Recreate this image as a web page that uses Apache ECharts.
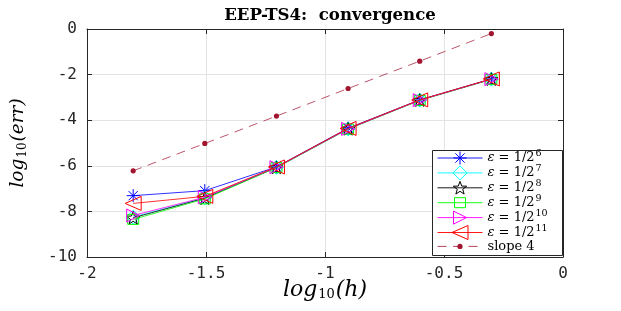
<!DOCTYPE html>
<html>
<head>
<meta charset="utf-8">
<script src="https://cdn.jsdelivr.net/npm/echarts@6/dist/echarts.min.js"></script>
<style>
  html, body { margin: 0; padding: 0; background: #ffffff; }
  #chart { width: 621px; height: 311px; }
</style>
</head>
<body>
<div id="chart"></div>
<script>
// ---- data ----
const logH = [-1.806, -1.505, -1.204, -0.903, -0.602, -0.301];
const errEps6  = [-7.31, -7.09, -6.05, -4.35, -3.11, -2.19];
const errEps7  = [-8.25, -7.40, -6.07, -4.38, -3.12, -2.20];
const errEps8  = [-8.28, -7.42, -6.07, -4.38, -3.12, -2.20];
const errEps9  = [-8.35, -7.45, -6.08, -4.39, -3.13, -2.21];
const errEps10 = [-8.18, -7.38, -6.06, -4.38, -3.12, -2.20];
const errEps11 = [-7.65, -7.34, -6.05, -4.36, -3.11, -2.19];
const slope4   = [-6.22, -5.02, -3.82, -2.61, -1.41, -0.20];
const seriesNames = ['ε = 1/2^6', 'ε = 1/2^7', 'ε = 1/2^8', 'ε = 1/2^9', 'ε = 1/2^10', 'ε = 1/2^11', 'slope 4'];
const xTickValues = [-2, -1.5, -1, -0.5, 0];
const yTickValues = [-10, -8, -6, -4, -2, 0];
const titleText = 'EEP-TS4:  convergence';

// ---- marker shapes (16x16 box, 1 unit = 1 px at symbolSize 16) ----
const BOX = 'M0 0M16 16';
function starPath(cx, cy, R, r) {
  let s = '';
  for (let k = 0; k < 10; k++) {
    const a = -Math.PI / 2 + k * Math.PI / 5;
    const rad = k % 2 ? r : R;
    s += (k ? 'L' : 'M') + (cx + rad * Math.cos(a)).toFixed(2) + ' ' + (cy + rad * Math.sin(a)).toFixed(2);
  }
  return s + 'Z';
}
const markers = [
  'path://' + BOX + 'M1.5 8L14.5 8M8 1.5L8 14.5M3.4 3.4L12.6 12.6M12.6 3.4L3.4 12.6',
  'path://' + BOX + 'M8 1L15 8L8 15L1 8Z',
  'path://' + BOX + starPath(8, 8.6, 7, 2.9),
  'path://' + BOX + 'M2.5 3L13.5 3L13.5 13L2.5 13Z',
  'path://' + BOX + 'M1.5 1.5L14.5 8L1.5 14.5Z',
  'path://' + BOX + 'M16 1L0 8L16 15Z',
  'path://' + BOX + 'M10.6 8A2.6 2.6 0 1 1 5.4 8A2.6 2.6 0 1 1 10.6 8Z'
];
const colors = ['#0000ff', '#00ffff', '#000000', '#00ff00', '#ff00ff', '#ff0000', '#a2142f'];
const allErr = [errEps6, errEps7, errEps8, errEps9, errEps10, errEps11, slope4];

const series = allErr.map((vals, i) => {
  const isSlope = i === 6;
  return {
    name: seriesNames[i],
    type: 'line',
    data: logH.map((x, j) => [x, vals[j]]),
    symbol: markers[i],
    symbolSize: 16,
    showAllSymbol: true,
    z: 2 + i * 0.01,
    lineStyle: {
      color: colors[i],
      width: 0.9,
      type: isSlope ? [9, 6.5] : 'solid',
      opacity: isSlope ? 0.8 : 0.9
    },
    itemStyle: isSlope
      ? { color: colors[i], borderWidth: 0 }
      : { color: 'transparent', borderColor: colors[i], borderWidth: 1 },
    emphasis: { disabled: true },
    animation: false
  };
});

function legendFmt(name) {
  const m = name.match(/^ε = 1\/2\^(\d+)$/);
  if (m) return '{i|ε}{t| = 1/2}{s|' + m[1] + '}';
  return '{t|' + name + '}';
}

const axisCommon = {
  type: 'value',
  axisLine: { show: true, onZero: false, lineStyle: { color: '#262626', width: 1 } },
  axisTick: { show: true, inside: true, length: 5, lineStyle: { color: '#262626' } }
};
const tickFont = { fontFamily: 'DejaVu Sans Mono', fontSize: 16, color: '#262626' };

const option = {
  animation: false,
  backgroundColor: '#ffffff',
  title: {
    text: titleText,
    left: 325,
    textAlign: 'center',
    top: 2,
    textStyle: { fontFamily: 'DejaVu Serif', fontWeight: 'bold', fontSize: 16.6, color: '#000' }
  },
  grid: { left: 87, right: 58, top: 29, bottom: 54, containLabel: false },
  xAxis: [
    Object.assign({}, axisCommon, {
      position: 'bottom',
      min: xTickValues[0], max: xTickValues[xTickValues.length - 1], interval: 0.5,
      axisLabel: Object.assign({ margin: 9 }, tickFont),
      splitLine: { show: true, lineStyle: { color: '#e3e3e3', width: 1 } },
      name: '{a|log}{s|10}{a|(h)}',
      nameLocation: 'middle',
      nameGap: 22,
      nameMoveOverlap: false,
      nameTextStyle: {
        rich: {
          a: { fontFamily: 'DejaVu Serif', fontStyle: 'italic', fontSize: 22, color: '#000', verticalAlign: 'middle' },
          s: { fontFamily: 'DejaVu Serif', fontSize: 13, color: '#000', padding: [9, 1, 0, 1] }
        }
      }
    }),
    Object.assign({}, axisCommon, {
      position: 'top',
      min: xTickValues[0], max: xTickValues[xTickValues.length - 1], interval: 0.5,
      axisLabel: { show: false },
      splitLine: { show: false }
    })
  ],
  yAxis: [
    Object.assign({}, axisCommon, {
      position: 'left',
      min: yTickValues[0], max: yTickValues[yTickValues.length - 1], interval: 2,
      axisLabel: Object.assign({ margin: 10 }, tickFont),
      splitLine: { show: true, lineStyle: { color: '#e3e3e3', width: 1 } },
      name: '{a|log}{s|10}{a|(err)}',
      nameLocation: 'middle',
      nameGap: 58,
      nameRotate: 90,
      nameMoveOverlap: false,
      nameTextStyle: {
        rich: {
          a: { fontFamily: 'DejaVu Serif', fontStyle: 'italic', fontSize: 18.5, color: '#000' },
          s: { fontFamily: 'DejaVu Serif', fontSize: 12, color: '#000', padding: [9, 1, 0, 1] }
        }
      }
    }),
    Object.assign({}, axisCommon, {
      position: 'right',
      min: yTickValues[0], max: yTickValues[yTickValues.length - 1], interval: 2,
      axisLabel: { show: false },
      splitLine: { show: false }
    })
  ],
  graphic: [{
    type: 'rect',
    z: 3,
    shape: { x: 432.5, y: 150.5, width: 130, height: 105 },
    style: { fill: '#ffffff', stroke: '#262626', lineWidth: 1 }
  }],
  legend: {
    orient: 'vertical',
    left: 437,
    top: 149,
    padding: 0,
    itemWidth: 45,
    itemHeight: 20,
    itemGap: -2.6,
    z: 5,
    selectedMode: false,
    itemStyle: { borderWidth: 1 },
    lineStyle: { width: 1 },
    data: seriesNames.map((n, i) => i === 6 ? { name: n, itemStyle: { borderWidth: 0 } } : { name: n }),
    formatter: legendFmt,
    textStyle: {
      color: '#000',
      rich: {
        i: { fontFamily: 'DejaVu Serif', fontStyle: 'italic', fontSize: 13, color: '#000' },
        t: { fontFamily: 'DejaVu Serif', fontSize: 13, color: '#000' },
        s: { fontFamily: 'DejaVu Serif', fontSize: 9.5, color: '#000', padding: [0, 0, 8, 1] }
      }
    }
  },
  series: series
};

const chart = echarts.init(document.getElementById('chart'), null, { renderer: 'canvas' });
chart.setOption(option);
</script>
</body>
</html>
